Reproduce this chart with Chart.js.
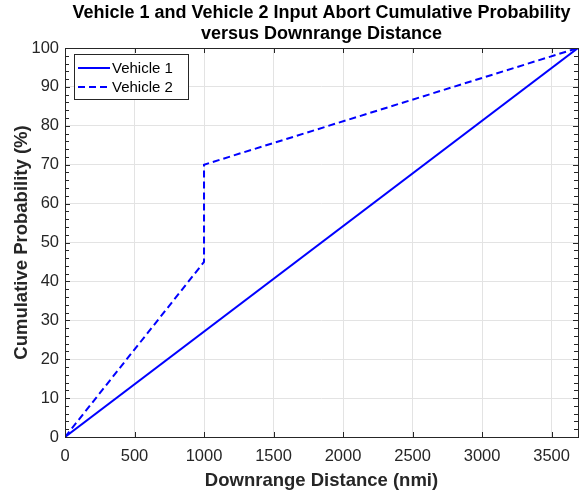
<!DOCTYPE html>
<html>
<head>
<meta charset="utf-8">
<script src="https://cdn.jsdelivr.net/npm/chart.js@4/dist/chart.umd.min.js"></script>
<style>
  html, body { margin: 0; padding: 0; background: #fff; }
  #wrap { width: 581px; height: 492px; }
</style>
</head>
<body>
<div id="wrap"><canvas id="abortChart" width="581" height="492"></canvas></div>
<script>
// values
const titleLines = ['Vehicle 1 and Vehicle 2 Input Abort Cumulative Probability', 'versus Downrange Distance'];
const seriesNames = ['Vehicle 1', 'Vehicle 2'];
const vehicle1X = [0, 3690];
const vehicle1Y = [0, 100];
const vehicle2X = [0, 1000, 1000, 3690];
const vehicle2Y = [0, 45, 70, 100];
const xTicks = [0, 500, 1000, 1500, 2000, 2500, 3000, 3500];
const yTicks = [0, 10, 20, 30, 40, 50, 60, 70, 80, 90, 100];
const yMinorStep = 2;

const FONT = '"Liberation Sans", Arial, sans-serif';
const TICK_COLOR = '#262626';

function toPoints(xs, ys) {
    return xs.map((x, i) => ({ x: x, y: ys[i] }));
}

// draws title, box, inward ticks and the legend the way MATLAB does
const matlabLook = {
    id: 'matlabLook',
    afterDraw(chart) {
        const ctx = chart.ctx;
        const area = chart.chartArea;
        const xs = chart.scales.x;
        const ys = chart.scales.y;

        ctx.save();
        // title
        ctx.fillStyle = '#000';
        ctx.font = 'bold 18px ' + FONT;
        ctx.textAlign = 'center';
        ctx.textBaseline = 'middle';
        const cx = (area.left + area.right) / 2;
        ctx.fillText(titleLines[0], cx, 13);
        ctx.fillText(titleLines[1], cx, 34);

        // ticks inside the box
        ctx.strokeStyle = TICK_COLOR;
        ctx.lineWidth = 1;
        ctx.beginPath();
        xTicks.forEach(v => {
            const px = Math.round(xs.getPixelForValue(v)) + 0.5;
            ctx.moveTo(px, area.bottom); ctx.lineTo(px, area.bottom - 5);
            ctx.moveTo(px, area.top); ctx.lineTo(px, area.top + 5);
        });
        for (let v = ys.min; v <= ys.max; v += yMinorStep) {
            const py = Math.round(ys.getPixelForValue(v)) + 0.5;
            const len = yTicks.includes(v) ? 5 : 4;
            ctx.moveTo(area.left, py); ctx.lineTo(area.left + len, py);
            ctx.moveTo(area.right, py); ctx.lineTo(area.right - len, py);
        }
        ctx.stroke();

        // box
        ctx.strokeStyle = TICK_COLOR;
        ctx.strokeRect(Math.round(area.left) + 0.5, Math.round(area.top) + 0.5,
            Math.round(area.right - area.left), Math.round(area.bottom - area.top));

        // legend
        const lx = area.left + 9, ly = area.top + 6, lw = 114, lh = 45;
        ctx.fillStyle = '#fff';
        ctx.fillRect(lx, ly, lw, lh);
        ctx.strokeStyle = '#262626';
        ctx.strokeRect(lx + 0.5, ly + 0.5, lw, lh);
        ctx.font = '15px ' + FONT;
        ctx.textAlign = 'left';
        chart.data.datasets.forEach((ds, i) => {
            const rowY = ly + 14 + i * 19;
            ctx.strokeStyle = ds.borderColor;
            ctx.lineWidth = 2;
            ctx.setLineDash(ds.borderDash || []);
            ctx.beginPath();
            ctx.moveTo(lx + 4, rowY); ctx.lineTo(lx + 36, rowY);
            ctx.stroke();
            ctx.setLineDash([]);
            ctx.fillStyle = '#000';
            ctx.fillText(ds.label, lx + 38, rowY + 1);
        });
        ctx.restore();
    }
};

const ctx = document.getElementById('abortChart').getContext('2d');
new Chart(ctx, {
    type: 'line',
    data: {
        datasets: [
            {
                label: seriesNames[0],
                data: toPoints(vehicle1X, vehicle1Y),
                borderColor: '#0000ff',
                borderWidth: 2,
                pointRadius: 0,
                fill: false
            },
            {
                label: seriesNames[1],
                data: toPoints(vehicle2X, vehicle2Y),
                borderColor: '#0000ff',
                borderWidth: 2,
                borderDash: [7, 4],
                pointRadius: 0,
                fill: false
            }
        ]
    },
    options: {
        responsive: false,
        animation: false,
        layout: { padding: { top: 48, right: 3, left: 0, bottom: 0 } },
        plugins: {
            legend: { display: false },
            title: { display: false },
            tooltip: { enabled: false }
        },
        scales: {
            x: {
                type: 'linear',
                min: 0,
                max: 3690,
                afterBuildTicks: s => { s.ticks = xTicks.map(v => ({ value: v })); },
                afterFit: s => { s.height = 55; },
                grid: { color: '#e3e3e3', drawTicks: false, drawOnChartArea: true },
                border: { display: false },
                ticks: {
                    color: TICK_COLOR,
                    font: { family: FONT, size: 16.5 },
                    padding: 10,
                    maxRotation: 0,
                    callback: v => String(v)
                },
                title: {
                    display: true,
                    text: 'Downrange Distance (nmi)',
                    color: '#262626',
                    font: { family: FONT, size: 18.5, weight: 'bold' },
                    padding: { top: 2, bottom: 0 }
                }
            },
            y: {
                min: 0,
                max: 100,
                afterBuildTicks: s => { s.ticks = yTicks.map(v => ({ value: v })); },
                afterFit: s => { s.width = 65; },
                grid: { color: '#e3e3e3', drawTicks: false },
                border: { display: false },
                ticks: {
                    color: TICK_COLOR,
                    font: { family: FONT, size: 16.5 },
                    padding: 6,
                    callback: v => String(v)
                },
                title: {
                    display: true,
                    text: 'Cumulative Probability (%)',
                    color: '#262626',
                    font: { family: FONT, size: 18.5, weight: 'bold' },
                    padding: { top: 11, bottom: 0 }
                }
            }
        }
    },
    plugins: [matlabLook]
});
</script>
</body>
</html>
